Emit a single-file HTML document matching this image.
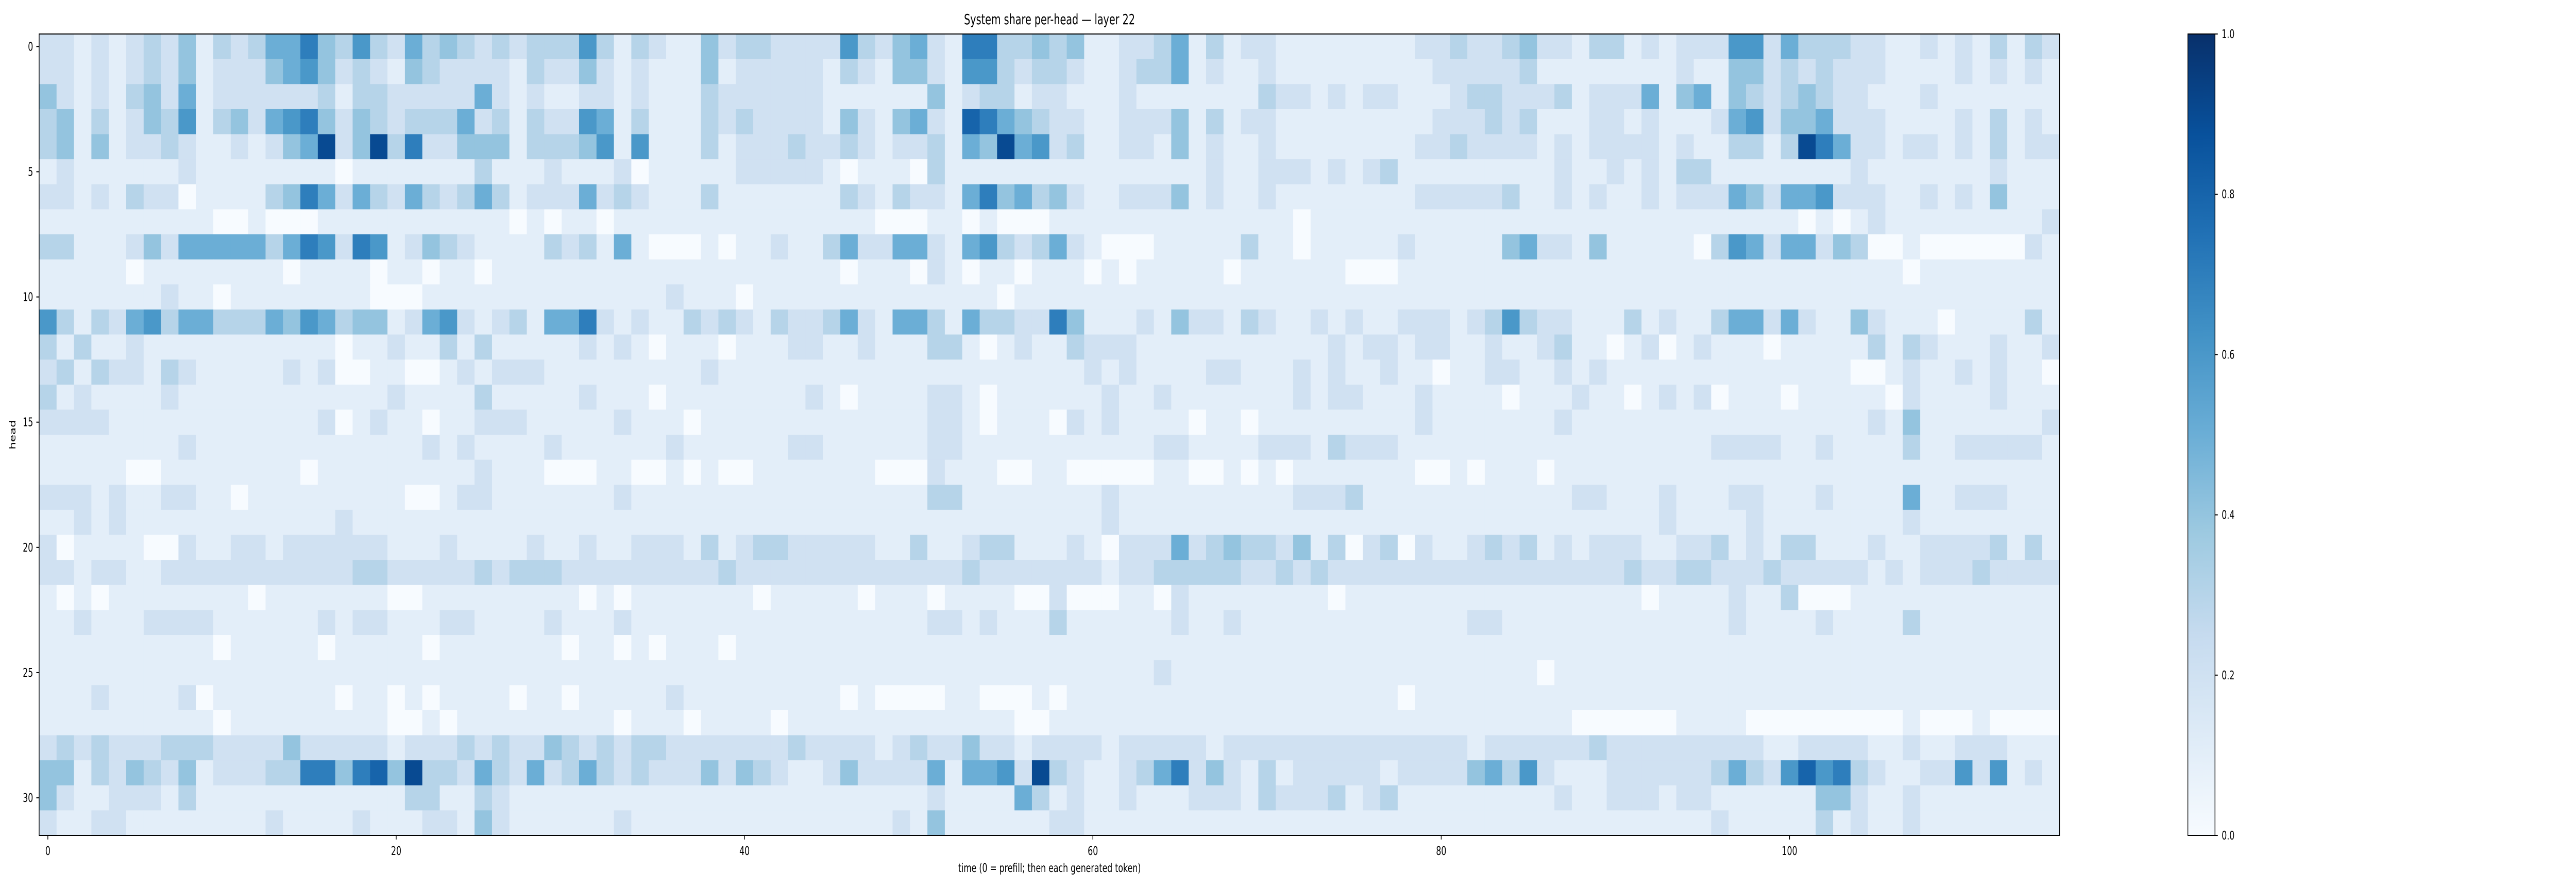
<!DOCTYPE html>
<html><head><meta charset="utf-8"><style>
html,body{margin:0;padding:0;background:#fff;overflow:hidden;width:100%;height:100%;}
svg{display:block;width:100vw;height:100vh;}
text{font-family:"DejaVu Sans","Liberation Sans",sans-serif;fill:#000;}
</style></head><body>
<svg id="chart" viewBox="0 0 7307 1728" preserveAspectRatio="none" xmlns="http://www.w3.org/2000/svg">
<text x="2977" y="47" font-size="28" text-anchor="middle">System share per-head — layer 22</text>
<g id="cells"></g>
<g id="axes"></g>
<text x="2977" y="1693" font-size="23" text-anchor="middle">time (0 = prefill; then each generated token)</text>
<text transform="translate(44,844) rotate(-90)" font-size="23" text-anchor="middle">head</text>
<defs><linearGradient id="cbgrad" x1="0" y1="1" x2="0" y2="0">
<stop offset="0" stop-color="#f7fbff"/><stop offset="0.125" stop-color="#deebf7"/><stop offset="0.25" stop-color="#c6dbef"/><stop offset="0.375" stop-color="#9ecae1"/><stop offset="0.5" stop-color="#6baed6"/><stop offset="0.625" stop-color="#4292c6"/><stop offset="0.75" stop-color="#2171b5"/><stop offset="0.875" stop-color="#08519c"/><stop offset="1" stop-color="#08306b"/>
</linearGradient></defs>
<rect x="6206" y="66" width="77" height="1556" fill="url(#cbgrad)" stroke="#000" stroke-width="2"/>
<g id="cbticks"></g>
</svg>
<script>
// Heatmap rows (head 0..31), each char = value*10 for time steps 0..115
const rowsA = [
"22121232413235574363253432323","22121232412224564232143222213","42121342512222223133222225212","34131243613425674243233352313",
"34141223211212459249372244413","12111111211111111011111113111","22121322011113475253253235312","11111111110010001111111111101",
"33111242555553576276124321111","11111011111111011110110110111","11111112110111111110001111111","63132563553335465344125621231",
"31311211111111111011211313111","23132213211111212001100121222","31211112111111111111211113111","22221111111111112012110112221",
"11111111211111111111112121111","11111001111111101111111112111","22212112211011111111100122111","11212111111111111211111111111",
"20111100211221222222111211112","22122112222222222233222223233","10101111111101111111001111111","11211122221111112122111221111",
"11111111110111110111110111111","11111111111111111111111111111","11121111201111111011010111101","11111111110111111111001011111",
"23232223332222422222122232322","44132432412223377478493325325","42112221311111111111133113211","21122111111112111121112214211"];
const rowsB = [
"33631321142332222632452177334","22421211141222221321442166323","11221211132222221111114123312","22651311132322221421452187543",
"33461611131222322321223154956","21112011111222221011103111111","22523211131111111321322157453","01101111111111111110001101000",
"32315100010112113522552156323","11111111111111111011102101101","11111112111011111111111111011","55721211323213223521553153322",
"11212101110111221121113310121","11111111121111111111111111111","11211101111111121011112210111","11112111011111111111112210111",
"21111112111111221111112211111","00011001010011111110002111001","11112111111111111111113311111","11111111111111111111111111111",
"11211222131233222221131123311","32222222223222222222222232222","11010111111101111101110111100","21112111111111111111112212111",
"10110101110111111111111111111","11111111111111111111111111111","10111112111111111010000110001","11110111011110111111111111100",
"43232332222222322221232242212","23532322242432112422225155629","11111111111111111111112111153","11112111111111111111214111111"];
const rowsC = [
"34112235131221111111122322342","32112335121121111111112222231","21112111111132212122111233222","22112224131221111111112223231",
"23112214121121111111122322221","11111111121122212123111111111","42112224121121111111122222311","11111111111111011111111111111",
"52100011111311011111211111452","11010111110111111000111111111","11111111111111111111111111111","74111214221321121211222123632",
"13222111111111112122122112112","11212111122111212112110112211","11121121111111212211121111011","02121111011011111111121111111",
"11111122111122213222111111111","10000011001010111111100101110","11121111111111222311111111111","11121111111111111111111111111",
"12102225234332413023021123231","22212233333223232222222222222","20001102111111110111111111111","31111112112111111111111122111",
"11111111111111111111111111111","11111121111111111111111111110","01111111111111111111011111111","11111111111111111111111111111",
"22212222212222222222222212222","32112357242131222221222245362","12112111222132223123111111111","22111111111111111111111111111"];
const rowsD = [
"21331212226625333221121213132","11111112114423232221111212121","31222514514323432211121111111","11221211125624452221111213121",
"21222212113313975221221213122","21121213311111111211111112111","21211212225425562221121214111","11111111111111010121111111112",
"21411111036525524300100000021","11111111111111111111011111111","11111111111111111111111111111","21113121135525211421110111131",
"31101201211101111131321112112","21211111111111111001211212110","12110121201110111110211112111","21111111111111111121411111112",
"11111111122221121111311222221","11111111111111111111111111111","12211121112211121111511222111","11111121111211111111211111111",
"21222112231213311121122223131","22223223322232222212122232222","11111011112113000111111111111","11111111112111121111311111111",
"11111111111111111111111111111","11111111111111111111111111111","11111111111111111111111111111","10000001111000000000100010000",
"22322222222211222211211222111","11122222235326867321122626121","21122212211111144211211111111","11111111121111131211211111111"];
const xTicks = [0,20,40,60,80,100];
const yTicks = [0,5,10,15,20,25,30];
const cbTicks = [0.0,0.2,0.4,0.6,0.8,1.0];

const NS = "http://www.w3.org/2000/svg";
const nCols = 116, nRows = 32;
const L = 111, R = 5842, T = 66, B = 1622;
const cw = (R-L)/nCols, ch = (B-T)/nRows;
const xS = t => L + (t+0.5)*cw;
const yS = h => T + (h+0.5)*ch;
const stops = ["#f7fbff","#deebf7","#c6dbef","#9ecae1","#6baed6","#4292c6","#2171b5","#08519c","#08306b"];
function hex(c){return [1,3,5].map(i=>parseInt(c.substr(i,2),16));}
function blues(v){
  v=Math.max(0,Math.min(1,v)); const p=v*8; const i=Math.min(7,Math.floor(p)); const f=p-i;
  const a=hex(stops[i]), b=hex(stops[i+1]);
  return "rgb("+a.map((x,k)=>Math.round(x+(b[k]-x)*f)).join(",")+")";
}
const cells = document.getElementById("cells");
for(let h=0;h<nRows;h++){
  const row = rowsA[h]+rowsB[h]+rowsC[h]+rowsD[h];
  for(let t=0;t<nCols;t++){
    const v = parseInt(row[t],10)/10;
    const r = document.createElementNS(NS,"rect");
    r.setAttribute("x",(xS(t)-cw/2).toFixed(2));
    r.setAttribute("y",(yS(h)-ch/2).toFixed(2));
    r.setAttribute("width",(cw+0.6).toFixed(2));
    r.setAttribute("height",(ch+0.6).toFixed(2));
    r.setAttribute("fill",blues(v));
    
    
    cells.appendChild(r);
  }
}
const axes = document.getElementById("axes");
const frame = document.createElementNS(NS,"rect");
frame.setAttribute("x",L);frame.setAttribute("y",T);frame.setAttribute("width",R-L);frame.setAttribute("height",B-T);
frame.setAttribute("fill","none");frame.setAttribute("stroke","#000");frame.setAttribute("stroke-width","2");


axes.appendChild(frame);
function line(x1,y1,x2,y2,parent){const l=document.createElementNS(NS,"line");l.setAttribute("x1",x1);l.setAttribute("y1",y1);l.setAttribute("x2",x2);l.setAttribute("y2",y2);l.setAttribute("stroke","#000");l.setAttribute("stroke-width","2");parent.appendChild(l);return l;}
function txt(x,y,s,anchor,parent){const e=document.createElementNS(NS,"text");e.setAttribute("x",x);e.setAttribute("y",y);e.setAttribute("font-size","23");e.setAttribute("text-anchor",anchor);e.textContent=s;parent.appendChild(e);return e;}
xTicks.forEach(t=>{
  const l=line(xS(t),B,xS(t),B+8,axes);
  
  
  const e=txt(xS(t),1660,String(t),"middle",axes);
  
  
});
yTicks.forEach(h=>{
  const l=line(L-8,yS(h),L,yS(h),axes);
  
  
  const e=txt(94,yS(h)+8,String(h),"end",axes);
  
  
});
const cbt = document.getElementById("cbticks");
const cbY = v => 1622 - v*(1622-66);
cbTicks.forEach(v=>{
  const l=line(6283,cbY(v),6291,cbY(v),cbt);
  
  
  const e=txt(6302,cbY(v)+8,v.toFixed(1),"start",cbt);
  
  
});
</script>
</body></html>
